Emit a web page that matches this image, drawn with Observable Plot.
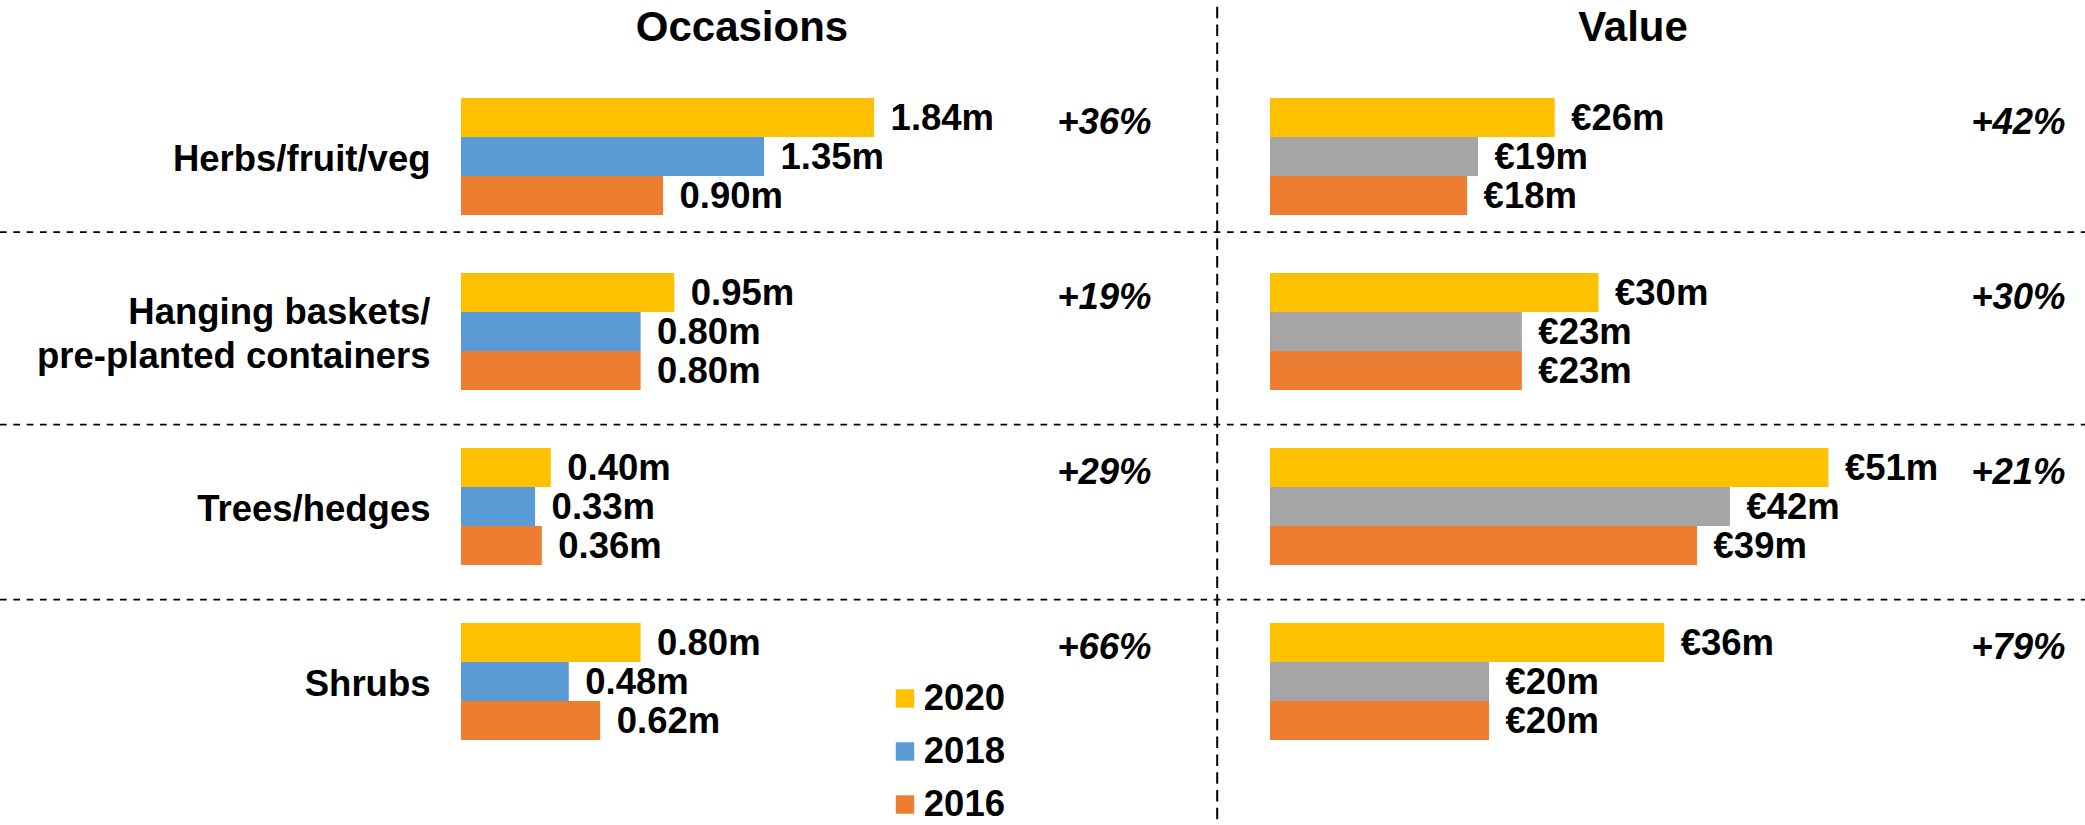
<!DOCTYPE html>
<html>
<head>
<meta charset="utf-8">
<script src="https://cdn.jsdelivr.net/npm/d3@7"></script>
<script src="https://cdn.jsdelivr.net/npm/@observablehq/plot@0.6"></script>
<style>
  html, body { margin: 0; padding: 0; background: #fff; overflow: hidden; }
  #wrap { position: relative; width: 2085px; height: 825px; font-family: "Liberation Sans", Arial, sans-serif; }
  .abs { position: absolute; }
  .title { position: absolute; top: 6px; width: 400px; text-align: center; font-size: 42px; line-height: 42px; font-weight: bold; color: #000; }
</style>
</head>
<body>
<div id="wrap"></div>
<script>
// ---------- data ----------
const categories = ["Herbs/fruit/veg", "Hanging baskets/\npre-planted containers", "Trees/hedges", "Shrubs"];
const years = ["2020", "2018", "2016"];
const panelTitles = ["Occasions", "Value"];

const occasions2020 = [1.84, 0.95, 0.40, 0.80];
const occasions2018 = [1.35, 0.80, 0.33, 0.48];
const occasions2016 = [0.90, 0.80, 0.36, 0.62];
const occasionsGrowth = ["+36%", "+19%", "+29%", "+66%"];

const value2020 = [26, 30, 51, 36];
const value2018 = [19, 23, 42, 20];
const value2016 = [18, 23, 39, 20];
const valueGrowth = ["+42%", "+30%", "+21%", "+79%"];

const occasionColors = ["#FFC000", "#5B9BD5", "#ED7D31"];
const valueColors = ["#FFC000", "#A5A5A5", "#ED7D31"];

// ---------- helpers ----------
const FONT = "Liberation Sans, Arial, sans-serif";
const LABEL = 36.5;

function rowsOf(v20, v18, v16) {
  return categories.flatMap((cat, i) => [
    {cat, year: "2020", value: v20[i]},
    {cat, year: "2018", value: v18[i]},
    {cat, year: "2016", value: v16[i]}
  ]);
}

function panel(o) {
  const dashStyle = {stroke: "#000", strokeWidth: 1.75, strokeDasharray: "6.67 6.67", strokeDashoffset: o.hDashOffset,
    insetLeft: -o.marginLeft, insetRight: -o.marginRight};
  const marks = [
    Plot.barX(o.rows, {fy: "cat", y: "year", x: "value", fill: "year"}),
    Plot.text(o.rows, {fy: "cat", y: "year", x: "value", text: d => o.fmt(d.value), dx: 16, textAnchor: "start",
      fontSize: LABEL, fontWeight: "bold", fontFamily: FONT, fill: "#000"}),
    Plot.text(categories, {fy: d => d, y: () => "2020", text: (d, i) => o.growth[i], frameAnchor: "right",
      textAnchor: "end", dy: 4, fontSize: LABEL, fontWeight: "bold", fontStyle: "italic", fontFamily: FONT, fill: "#000"}),
    Plot.ruleY(categories.slice(0, 1), {fy: d => d, y: () => "2016", dy: 36.2, ...dashStyle}),
    Plot.ruleY(categories.slice(1, 3), {fy: d => d, y: () => "2016", dy: 53.5, ...dashStyle})
  ];
  if (o.categoryLabels) {
    marks.push(Plot.text(categories, {fy: d => d, text: d => d, frameAnchor: "left", textAnchor: "end", dx: -31,
      lineHeight: 1.19, fontSize: LABEL, fontWeight: "bold", fontFamily: FONT, fill: "#000"}));
  }
  if (o.vLine) {
    marks.push(Plot.frame({facet: "super", anchor: "left", dx: -53.3, insetTop: -o.marginTop, insetBottom: -o.marginBottom,
      stroke: "#000", strokeWidth: 2, strokeDasharray: "9.5 8.3", strokeDashoffset: 10.5}));
  }
  return Plot.plot({
    width: o.width, height: 825,
    marginLeft: o.marginLeft, marginRight: o.marginRight, marginTop: o.marginTop, marginBottom: o.marginBottom,
    style: {fontFamily: FONT, background: "transparent"},
    x: {domain: [0, o.xMax], axis: null},
    y: {domain: years, padding: 0, axis: null, round: false},
    fy: {domain: categories, paddingInner: 0.3314, paddingOuter: 0, axis: null, round: false, label: null},
    color: {domain: years, range: o.colors},
    marks
  });
}

const wrap = document.getElementById("wrap");

const left = panel({
  width: 1207, marginLeft: 461, marginRight: 56, marginTop: 98, marginBottom: 85,
  xMax: 690 / 224.5, rows: rowsOf(occasions2020, occasions2018, occasions2016),
  growth: occasionsGrowth, colors: occasionColors, fmt: v => v.toFixed(2) + "m",
  categoryLabels: true, hDashOffset: 0
});
const leftDiv = document.createElement("div");
leftDiv.className = "abs"; leftDiv.style.left = "0px"; leftDiv.style.top = "0px"; leftDiv.style.width = "1207px";
leftDiv.appendChild(left); wrap.appendChild(leftDiv);

const right = panel({
  width: 878, marginLeft: 63, marginRight: 20, marginTop: 98, marginBottom: 85,
  xMax: 795 / 10.95, rows: rowsOf(value2020, value2018, value2016),
  growth: valueGrowth, colors: valueColors, fmt: v => "€" + v + "m",
  categoryLabels: false, vLine: true, hDashOffset: 6.67
});
const rightDiv = document.createElement("div");
rightDiv.className = "abs"; rightDiv.style.left = "1207px"; rightDiv.style.top = "0px"; rightDiv.style.width = "878px";
rightDiv.appendChild(right); wrap.appendChild(rightDiv);

// legend
const legend = Plot.plot({
  width: 160, height: 155, marginLeft: 34.5, marginRight: 0, marginTop: 27.5, marginBottom: 20,
  style: {fontFamily: FONT, background: "transparent"},
  y: {type: "point", domain: years, padding: 0, axis: null},
  color: {domain: years, range: occasionColors},
  marks: [
    Plot.dot(years, {y: d => d, frameAnchor: "left", symbol: "square", r: 10.4, fill: d => d}),
    Plot.text(years, {y: d => d, text: d => d, frameAnchor: "left", dx: 18.8, textAnchor: "start",
      fontSize: LABEL, fontWeight: "bold", fontFamily: FONT, fill: "#000"})
  ]
});
const legDiv = document.createElement("div");
legDiv.className = "abs"; legDiv.style.left = "870px"; legDiv.style.top = "670px"; legDiv.style.width = "160px";
legDiv.appendChild(legend); wrap.appendChild(legDiv);

// titles
[[panelTitles[0], 542], [panelTitles[1], 1433]].forEach(([t, x]) => {
  const d = document.createElement("div");
  d.className = "title"; d.style.left = x + "px"; d.textContent = t;
  wrap.appendChild(d);
});
</script>
</body>
</html>
